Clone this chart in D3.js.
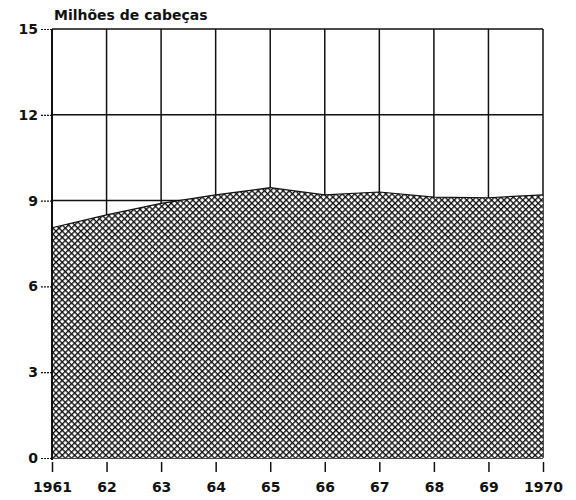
<!DOCTYPE html>
<html><head><meta charset="utf-8">
<script src="https://cdn.jsdelivr.net/npm/d3@7"></script>
<style>body{margin:0;background:#fff}svg{display:block}text{font-family:"DejaVu Sans",sans-serif;fill:#111}</style>
</head><body><svg id="c" width="576" height="500"></svg>
<script>
const years = [1961,1962,1963,1964,1965,1966,1967,1968,1969,1970];
const yearLabels = ["1961","62","63","64","65","66","67","68","69","1970"];
const values = [8.05,8.5,8.9,9.2,9.45,9.2,9.3,9.12,9.1,9.2];
const yTicks = [0,3,6,9,12,15];
const title = "Milhões de cabeças";

const svg = d3.select("#c");
const x = d3.scaleLinear().domain([1961,1970]).range([52,543]);
const y = d3.scaleLinear().domain([0,15]).range([458,29]);

const defs = svg.append("defs");
const pat = defs.append("pattern").attr("id","hatch").attr("patternUnits","userSpaceOnUse")
  .attr("width",4.4).attr("height",4.4).attr("patternTransform","rotate(45)");
pat.append("rect").attr("width",4.4).attr("height",4.4).attr("fill","#fff");
pat.append("line").attr("x1",0).attr("y1",0).attr("x2",0).attr("y2",4.4).attr("stroke","#111").attr("stroke-width",2.7);
pat.append("line").attr("x1",0).attr("y1",0).attr("x2",4.4).attr("y2",0).attr("stroke","#111").attr("stroke-width",2.7);

// grid
svg.append("g").selectAll("line.v").data(years).join("line")
  .attr("x1",d=>x(d)).attr("x2",d=>x(d)).attr("y1",y(15)).attr("y2",y(0))
  .attr("stroke","#111").attr("stroke-width",1.5);
svg.append("g").selectAll("line.h").data(yTicks).join("line")
  .attr("x1",x(1961)).attr("x2",x(1970)).attr("y1",d=>y(d)).attr("y2",d=>y(d))
  .attr("stroke","#111").attr("stroke-width",1.5);

// area
const area = d3.area().x((d,i)=>x(years[i])).y0(y(0)).y1(d=>y(d));
svg.append("path").datum(values).attr("d",area).attr("fill","url(#hatch)");
svg.append("path").datum(values).attr("d",d3.line().x((d,i)=>x(years[i])).y(d=>y(d)))
  .attr("fill","none").attr("stroke","#111").attr("stroke-width",1.2);

// left axis
svg.append("line").attr("x1",x(1961)).attr("x2",x(1961)).attr("y1",y(15)).attr("y2",y(0)+2)
  .attr("stroke","#111").attr("stroke-width",2);
const yAxis = d3.axisLeft(y).tickValues(yTicks).tickSize(12).tickPadding(2).tickFormat(d3.format("d"));
const ga = svg.append("g").attr("transform",`translate(${x(1961)},0)`).call(yAxis);
ga.select(".domain").remove();
ga.selectAll(".tick line").attr("stroke","#111").attr("stroke-width",1.2).attr("stroke-dasharray","2,1");
ga.selectAll("text").attr("font-size",14).attr("font-weight","bold");

// bottom axis
const xAxis = d3.axisBottom(x).tickValues(years).tickSize(10).tickPadding(10).tickFormat((d,i)=>yearLabels[i]);
const gx = svg.append("g").attr("transform",`translate(0,${y(0)+4})`).call(xAxis);
gx.select(".domain").remove();
gx.selectAll(".tick line").attr("stroke","#111").attr("stroke-width",1.5);
gx.selectAll("text").attr("font-size",14).attr("font-weight","bold");

svg.append("text").attr("x",54).attr("y",20).attr("font-size",14).attr("font-weight","bold").text(title);
</script></body></html>
